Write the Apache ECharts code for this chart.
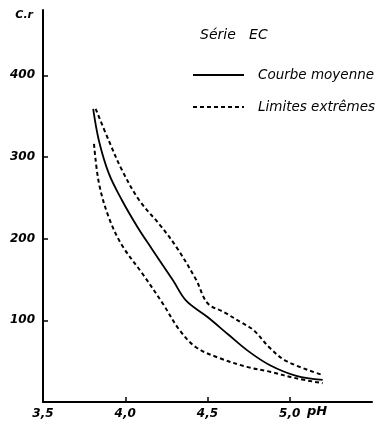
<!DOCTYPE html>
<html>
<head>
<meta charset="utf-8">
<script src="https://cdn.jsdelivr.net/npm/echarts@6/dist/echarts.min.js"></script>
<style>
  html, body { margin: 0; padding: 0; background: #fff; }
  #chart { width: 377px; height: 422px; }
</style>
</head>
<body>
<div id="chart"></div>
<script>
  // courbe moyenne (pH, C.r)
  var phMoyenne = [3.805, 3.84, 3.90, 3.98, 4.075, 4.16, 4.29, 4.37, 4.50, 4.63, 4.75, 4.88, 5.04, 5.20]
  var crMoyenne = [359, 320, 280, 247, 214, 188, 149, 124, 104, 82, 62, 45, 32, 27]
  // limite haute
  var phHaut = [3.82, 3.90, 3.98, 4.085, 4.21, 4.31, 4.43, 4.50, 4.60, 4.70, 4.78, 4.88, 4.98, 5.20]
  var crHaut = [359, 320, 284, 247, 217, 190, 150, 121, 110, 98, 88, 66, 50, 33]
  // limite basse
  var phBas = [3.81, 3.84, 3.90, 3.98, 4.105, 4.23, 4.33, 4.43, 4.57, 4.74, 4.88, 5.04, 5.20]
  var crBas = [316, 268, 226, 192, 157, 120, 88, 67, 54, 43, 37, 29, 23]

  var xLabels = [3.5, 4.0, 4.5, 5.0]
  var xTicks = [4.0, 4.5, 5.0]
  var yLabels = [100, 200, 300, 400]

  function pairs(xs, ys) {
    return xs.map(function (x, i) { return [x, ys[i]] })
  }

  var font = 'DejaVu Sans'
  var charts = echarts.init(document.getElementById('chart'))
  var option = {
    animation: false,
    title: {
      text: 'Série   EC',
      left: 200,
      top: 28,
      padding: 0,
      textStyle: { fontFamily: font, fontStyle: 'italic', fontWeight: 'normal', fontSize: 14, color: '#000' }
    },
    legend: {
      orient: 'vertical',
      left: 192,
      top: 68,
      padding: 0,
      itemWidth: 51,
      itemHeight: 14,
      itemGap: 18,
      itemStyle: { opacity: 0 },
      data: ['Courbe moyenne', 'Limites extrêmes'],
      textStyle: { fontFamily: font, fontStyle: 'italic', fontSize: 13.5, color: '#000', padding: [0, 0, 0, 9] }
    },
    grid: { left: 43, right: 5, top: 10, bottom: 20 },
    xAxis: {
      type: 'value',
      min: 3.5,
      max: 5.5,
      name: 'pH',
      nameLocation: 'end',
      nameGap: -65,
      nameTextStyle: { fontFamily: font, fontStyle: 'italic', fontWeight: 'bold', fontSize: 13, color: '#000', verticalAlign: 'top', padding: [3, 0, 0, 0] },
      splitLine: { show: false },
      axisLine: { lineStyle: { color: '#000', width: 2 } },
      axisTick: { inside: true, length: 5, customValues: xTicks, lineStyle: { color: '#000', width: 1.5 } },
      axisLabel: {
        customValues: xLabels,
        color: '#000',
        fontFamily: font,
        fontStyle: 'italic',
        fontWeight: 'bold',
        fontSize: 12,
        margin: 6,
        formatter: function (v) { return v.toFixed(1).replace('.', ',') }
      }
    },
    yAxis: {
      type: 'value',
      min: 0,
      max: 480,
      name: 'C.r',
      nameLocation: 'end',
      nameGap: -5,
      nameTextStyle: { fontFamily: font, fontStyle: 'italic', fontWeight: 'bold', fontSize: 11, color: '#000', align: 'right', verticalAlign: 'middle', padding: [0, 10, 0, 0] },
      splitLine: { show: false },
      axisLine: { show: true, lineStyle: { color: '#000', width: 2 } },
      axisTick: { show: true, inside: true, length: 5, customValues: yLabels, lineStyle: { color: '#000', width: 1.5 } },
      axisLabel: {
        customValues: yLabels,
        color: '#000',
        fontFamily: font,
        fontStyle: 'italic',
        fontWeight: 'bold',
        fontSize: 12,
        margin: 8
      }
    },
    series: [
      {
        name: 'Courbe moyenne',
        type: 'line',
        smooth: 0.35,
        symbol: 'none',
        lineStyle: { color: '#000', width: 1.8 },
        itemStyle: { color: '#000' },
        data: pairs(phMoyenne, crMoyenne)
      },
      {
        name: 'Limites extrêmes',
        type: 'line',
        smooth: 0.35,
        symbol: 'none',
        lineStyle: { color: '#000', width: 2, type: [4, 3] },
        itemStyle: { color: '#000' },
        data: pairs(phHaut, crHaut)
      },
      {
        name: 'Limites extrêmes',
        type: 'line',
        smooth: 0.35,
        symbol: 'none',
        lineStyle: { color: '#000', width: 2, type: [4, 3] },
        itemStyle: { color: '#000' },
        data: pairs(phBas, crBas)
      }
    ]
  }
  charts.setOption(option)
  window.addEventListener('resize', function () {
    charts.resize()
  })
</script>
</body>
</html>
